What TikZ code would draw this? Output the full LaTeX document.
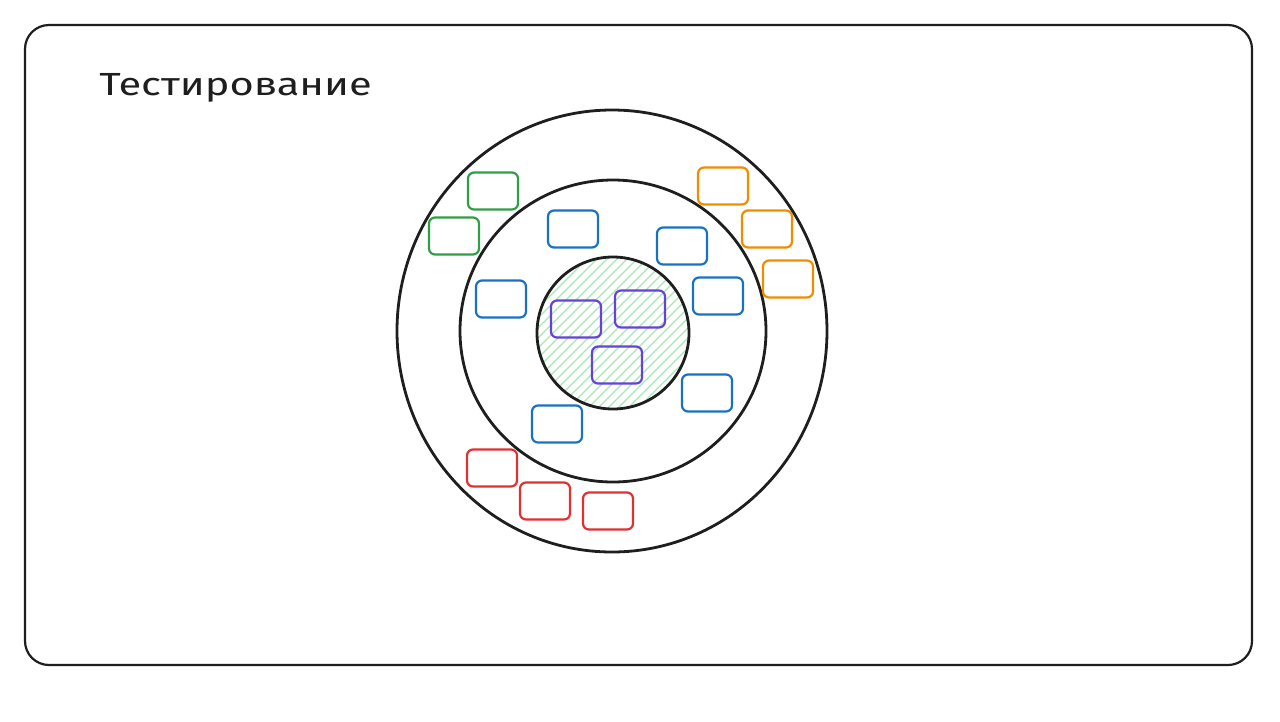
\documentclass[tikz,border=0pt]{standalone}
\usepackage{fontspec}
\setmainfont{Fira Sans}
\usepackage{tikz}

\definecolor{cgreen}{HTML}{2F9E44}
\definecolor{corange}{HTML}{F08C00}
\definecolor{cblue}{HTML}{1971C2}
\definecolor{cpurple}{HTML}{6741D9}
\definecolor{cred}{HTML}{E03131}
\definecolor{chatch}{HTML}{A5E8B0}
\definecolor{cink}{HTML}{1E1E1E}

\tikzset{
  card/.style={draw=#1,line width=2.2pt,rounded corners=6pt,minimum width=50pt,minimum height=37pt,inner sep=0pt},
  ring/.style={draw=cink,line width=2.8pt}
}

\begin{document}
\begin{tikzpicture}[x=1pt,y=-1pt]
\useasboundingbox (0,0) rectangle (1280,721);
\draw [cink,line width=2.2pt,rounded corners=24pt] (25,25) rectangle (1252,665);
\node [anchor=west,xscale=1.3,inner sep=0pt,font=\fontsize{32}{34}\selectfont,text=cink] (title) at (99,88) {Тестирование};

% rings
\draw [ring] (612,331) ellipse [x radius=215,y radius=221];
\draw [ring] (613,331) ellipse [x radius=153,y radius=151];
\begin{scope}
  \clip (613,333) circle [radius=76];
  \foreach \k in {-200,-190,...,200}
    \draw [chatch,line width=1.3pt] (613+\k-90,423) -- (613+\k+90,243);
\end{scope}
\draw [ring] (613,333) circle [radius=76];

% green
\node [card=cgreen] (g1) at (493,191) {};
\node [card=cgreen] (g2) at (454,236) {};
% orange
\node [card=corange] (o1) at (723,186) {};
\node [card=corange] (o2) at (767,229) {};
\node [card=corange] (o3) at (788,279) {};
% blue
\node [card=cblue] (b1) at (573,229) {};
\node [card=cblue] (b2) at (682,246) {};
\node [card=cblue] (b3) at (501,299) {};
\node [card=cblue] (b4) at (718,296) {};
\node [card=cblue] (b5) at (707,393) {};
\node [card=cblue] (b6) at (557,424) {};
% purple
\node [card=cpurple] (p1) at (576,319) {};
\node [card=cpurple] (p2) at (640,309) {};
\node [card=cpurple] (p3) at (617,365) {};
% red
\node [card=cred] (r1) at (492,468) {};
\node [card=cred] (r2) at (545,501) {};
\node [card=cred] (r3) at (608,511) {};
\end{tikzpicture}
\end{document}
